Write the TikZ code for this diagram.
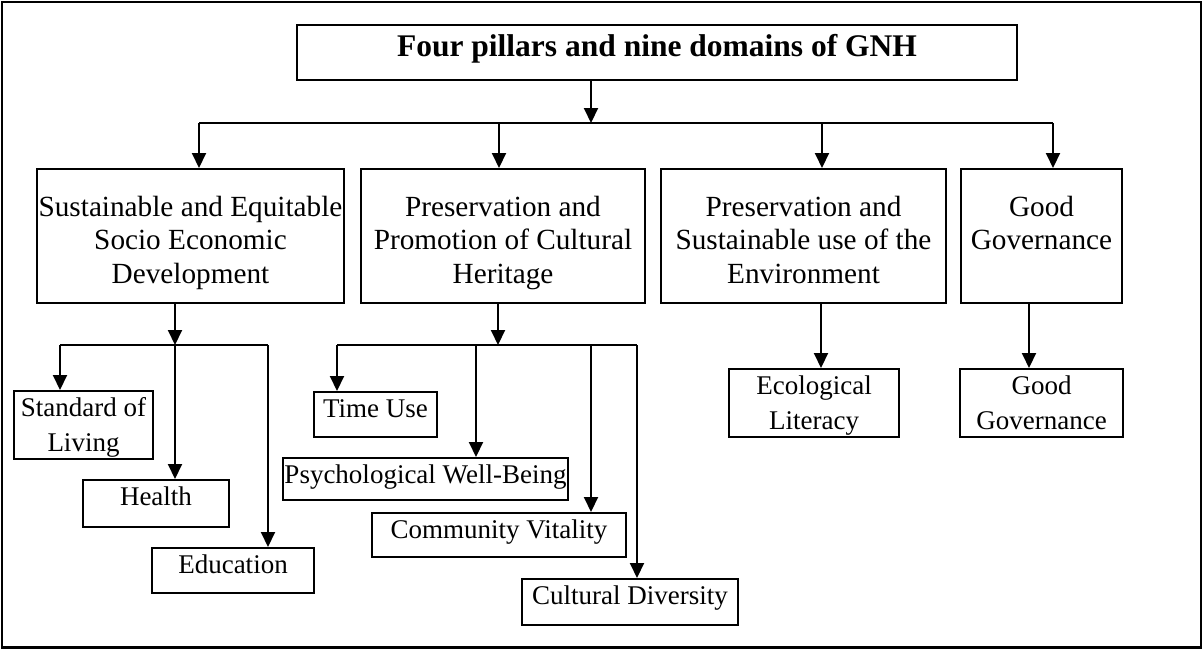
\documentclass[tikz,border=0pt]{standalone}
\usepackage{fontspec}
\setmainfont{Liberation Serif}
\usetikzlibrary{arrows.meta,positioning}

\begin{document}
\begin{tikzpicture}[x=1pt,y=-1pt,
  headbox/.style={draw,line width=2pt,inner xsep=0pt,inner ysep=10pt,
                  minimum width=720pt,text height=21pt,text depth=14pt,
                  font=\fontsize{31.5}{36}\selectfont\bfseries},
  pillarbox/.style={draw,line width=2pt,inner sep=0pt,minimum height=134pt,
                 align=center,text height=114pt,text depth=20pt,
                 font=\fontsize{29.25}{33.5}\selectfont},
  domainbox/.style={draw,line width=2pt,inner xsep=0pt,inner ysep=7pt,
                 align=center,text height=18.5pt,text depth=12.5pt,
                 font=\fontsize{27}{34.5}\selectfont},
  twoline/.style={text height=53pt,text depth=1pt},
  arr/.style={-{Triangle[length=15pt,width=14pt]},line width=2pt},
  bus/.style={line width=2pt}
]
\useasboundingbox (0,0) rectangle (1204,649);
\draw[line width=2.2pt] (2,2) rectangle (1201,647.5);

\node[headbox,anchor=north] (gnh) at (657,24) {Four pillars and nine domains of GNH};

\node[pillarbox,minimum width=307pt,anchor=north] (econ) at (190.5,168)
  {Sustainable and Equitable\\Socio Economic\\Development};
\node[pillarbox,minimum width=284pt,anchor=north] (culture) at (503,168)
  {Preservation and\\Promotion of Cultural\\Heritage};
\node[pillarbox,minimum width=285pt,anchor=north] (environ) at (803.5,168)
  {Preservation and\\Sustainable use of the\\Environment};
\node[pillarbox,minimum width=161pt,text height=80.5pt,text depth=53.5pt,anchor=north] (govern)
  at (1041.5,168) {Good\\Governance};

\node[domainbox,twoline,minimum width=139pt,anchor=north] (living) at (83.5,390)
  {Standard of\\Living};
\node[domainbox,minimum width=146pt,text depth=14.5pt,anchor=north] (health) at (156,479) {Health};
\node[domainbox,minimum width=162pt,anchor=north] (education) at (233,547) {Education};
\node[domainbox,minimum width=123pt,anchor=north] (timeuse) at (375.5,391) {Time Use};
\node[domainbox,minimum width=285pt,text depth=9.5pt,anchor=north] (wellbeing) at (425.5,457)
  {Psychological Well-Being};
\node[domainbox,minimum width=254pt,text depth=11.5pt,anchor=north] (community) at (499,512)
  {Community Vitality};
\node[domainbox,minimum width=216pt,text depth=13.5pt,anchor=north] (diversity) at (630,578)
  {Cultural Diversity};
\node[domainbox,twoline,minimum width=170pt,anchor=north] (ecology) at (814,368)
  {Ecological\\Literacy};
\node[domainbox,twoline,minimum width=163pt,anchor=north] (goodgov) at (1041.5,368)
  {Good\\Governance};

\coordinate (hub) at (591,123);
\coordinate (p1) at (199,123);
\coordinate (p2) at (499,123);
\coordinate (p3) at (822,123);
\coordinate (p4) at (1053,123);
\draw[arr] (gnh.south -| hub) -- (hub);
\draw[bus] (p1) -- (p4);
\draw[arr] (p1) -- (p1 |- econ.north);
\draw[arr] (p2) -- (p2 |- culture.north);
\draw[arr] (p3) -- (p3 |- environ.north);
\draw[arr] (p4) -- (p4 |- govern.north);

\coordinate (e0) at (175,345);
\coordinate (e1) at (60,345);
\coordinate (e2) at (268,345);
\draw[arr] (econ.south -| e0) -- (e0);
\draw[bus] (e1) -- (e2);
\draw[arr] (e1) -- (e1 |- living.north);
\draw[arr] (e0) -- (e0 |- health.north);
\draw[arr] (e2) -- (e2 |- education.north);

\coordinate (c0) at (498,345);
\coordinate (c1) at (337,345);
\coordinate (c2) at (476,345);
\coordinate (c3) at (591,345);
\coordinate (c4) at (637,345);
\draw[arr] (culture.south -| c0) -- (c0);
\draw[bus] (c1) -- (c4);
\draw[arr] (c1) -- (c1 |- timeuse.north);
\draw[arr] (c2) -- (c2 |- wellbeing.north);
\draw[arr] (c3) -- (c3 |- community.north);
\draw[arr] (c4) -- (c4 |- diversity.north);

\coordinate (v0) at (821,345);
\coordinate (g0) at (1029,345);
\draw[arr] (environ.south -| v0) -- (v0 |- ecology.north);
\draw[arr] (govern.south -| g0) -- (g0 |- goodgov.north);
\end{tikzpicture}
\end{document}
